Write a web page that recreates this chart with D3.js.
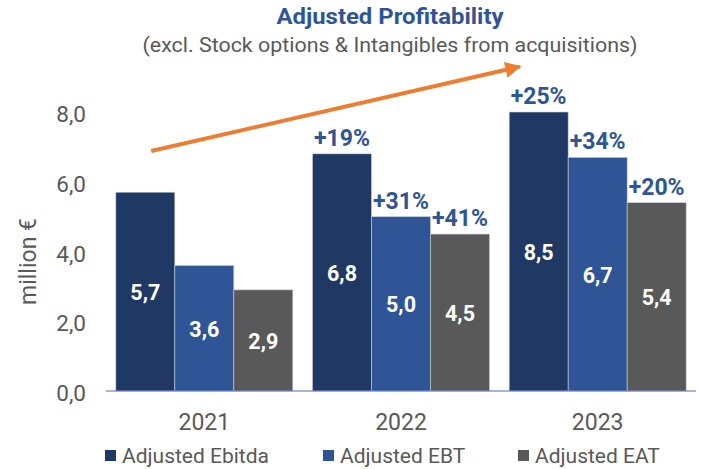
<!DOCTYPE html>
<html>
<head>
<meta charset="utf-8">
<script src="https://cdn.jsdelivr.net/npm/d3@7"></script>
<style>
  body { margin: 0; background: #fff; }
  text { font-family: Roboto, "Noto Sans", sans-serif; }
</style>
</head>
<body>
<div id="chart"></div>
<script>
const years = ['2021', '2022', '2023'];
const series = ['Adjusted Ebitda', 'Adjusted EBT', 'Adjusted EAT'];
const ebitda = [5.7, 6.8, 8.5];
const ebt = [3.6, 5.0, 6.7];
const eat = [2.9, 4.5, 5.4];
const growth = {
  'Adjusted Ebitda': [null, '+19%', '+25%'],
  'Adjusted EBT': [null, '+31%', '+34%'],
  'Adjusted EAT': [null, '+41%', '+20%']
};
const yTicks = [0, 2, 4, 6, 8];
const colors = ['#203864', '#2F5597', '#595959'];

const width = 701, height = 469;
const margin = {top: 112, right: 5, bottom: 78, left: 106};
const gray = '#595959';
const blue = '#2F5597';

const svg = d3.select('#chart')
  .append('svg')
    .attr('width', width)
    .attr('height', height);

const values = [ebitda, ebt, eat];
const rows = [];
years.forEach((yr, i) => {
  series.forEach((s, j) => {
    rows.push({year: yr, series: s, value: values[j][i], pct: growth[s][i]});
  });
});

const x = d3.scaleBand().domain(years)
  .range([margin.left, width - margin.right])
  .paddingInner(0.1).paddingOuter(0.05);
const xs = d3.scaleBand().domain(series).range([0, x.bandwidth()]);
const yRaw = d3.scaleLinear().domain([0, 8]).range([height - margin.bottom, margin.top]);
const y = yRaw.copy().clamp(true);
const color = d3.scaleOrdinal().domain(series).range(colors);
const fmt = v => d3.format('.1f')(v).replace('.', ',');

// titles
svg.append('text')
  .attr('x', 390).attr('y', 24)
  .attr('text-anchor', 'middle')
  .attr('font-size', 22).attr('font-weight', 'bold')
  .attr('fill', blue)
  .attr('textLength', 227).attr('lengthAdjust', 'spacingAndGlyphs')
  .text('Adjusted Profitability');
svg.append('text')
  .attr('x', 390).attr('y', 52)
  .attr('text-anchor', 'middle')
  .attr('font-size', 21)
  .attr('fill', gray)
  .attr('textLength', 495).attr('lengthAdjust', 'spacingAndGlyphs')
  .text('(excl. Stock options & Intangibles from acquisitions)');

// y tick labels
svg.append('g')
  .selectAll('text')
  .data(yTicks)
  .join('text')
    .attr('x', 86)
    .attr('y', d => y(d) + 2)
    .attr('text-anchor', 'end')
    .attr('dominant-baseline', 'central')
    .attr('font-size', 22.5)
    .attr('fill', gray)
    .text(d => fmt(d));

svg.append('text')
  .attr('transform', `translate(36, ${(y(0) + y(8)) / 2 + 10}) rotate(-90)`)
  .attr('text-anchor', 'middle')
  .attr('font-size', 23)
  .attr('fill', gray)
  .text('million €');

// bars
const bars = svg.append('g');
bars.selectAll('rect')
  .data(rows)
  .join('rect')
    .attr('x', d => x(d.year) + xs(d.series))
    .attr('y', d => y(d.value))
    .attr('width', xs.bandwidth())
    .attr('height', d => y(0) - y(d.value))
    .attr('fill', d => color(d.series))
    .attr('stroke', '#c9d1e0')
    .attr('stroke-width', 0.6);

// baseline
svg.append('line')
  .attr('x1', margin.left).attr('x2', width - margin.right)
  .attr('y1', y(0)).attr('y2', y(0))
  .attr('stroke', '#4f71b0').attr('stroke-width', 1.2);

// values in bars
svg.append('g')
  .selectAll('text')
  .data(rows)
  .join('text')
    .attr('x', d => x(d.year) + xs(d.series) + xs.bandwidth() / 2)
    .attr('y', d => (y(d.value) + y(0)) / 2 + 1)
    .attr('text-anchor', 'middle')
    .attr('dominant-baseline', 'central')
    .attr('font-size', 21.5).attr('font-weight', 'bold')
    .attr('fill', '#fff')
    .text(d => fmt(d.value));

// growth labels
svg.append('g')
  .selectAll('text')
  .data(rows.filter(d => d.pct))
  .join('text')
    .attr('x', d => x(d.year) + xs(d.series) + xs.bandwidth() / 2)
    .attr('y', d => y(d.value) - 8)
    .attr('text-anchor', 'middle')
    .attr('font-size', 23).attr('font-weight', 'bold')
    .attr('fill', blue)
    .text(d => d.pct);

// year labels
svg.append('g')
  .selectAll('text')
  .data(years)
  .join('text')
    .attr('x', d => x(d) + x.bandwidth() / 2)
    .attr('y', y(0) + 31)
    .attr('dominant-baseline', 'central')
    .attr('text-anchor', 'middle')
    .attr('font-size', 23)
    .attr('fill', gray)
    .text(d => d);

// trend arrow
const arrowFrom = {year: '2021', f: 0.2, v: 6.88};
const arrowTo = {year: '2023', f: 0.06, v: 9.3};
svg.append('defs').append('marker')
  .attr('id', 'head')
  .attr('viewBox', '0 0 10 10')
  .attr('refX', 9).attr('refY', 5)
  .attr('markerWidth', 4.3).attr('markerHeight', 4)
  .attr('orient', 'auto')
  .append('path')
    .attr('d', 'M0,0 L10,5 L0,10 Z')
    .attr('fill', '#ED7D31');
svg.append('line')
  .attr('x1', x(arrowFrom.year) + x.bandwidth() * arrowFrom.f)
  .attr('y1', yRaw(arrowFrom.v))
  .attr('x2', x(arrowTo.year) + x.bandwidth() * arrowTo.f)
  .attr('y2', yRaw(arrowTo.v))
  .attr('stroke', '#ED7D31')
  .attr('stroke-width', 4)
  .attr('marker-end', 'url(#head)');

// legend
const legendX = [105, 323, 518];
const legend = svg.append('g')
  .selectAll('g')
  .data(series)
  .join('g')
    .attr('transform', (d, i) => `translate(${legendX[i]}, 456)`);
legend.append('rect')
  .attr('x', 0).attr('y', -6)
  .attr('width', 11).attr('height', 11)
  .attr('fill', d => color(d));
legend.append('text')
  .attr('x', 17).attr('y', 0)
  .attr('dominant-baseline', 'central')
  .attr('font-size', 21)
  .attr('fill', gray)
  .text(d => d);
</script>
</body>
</html>
